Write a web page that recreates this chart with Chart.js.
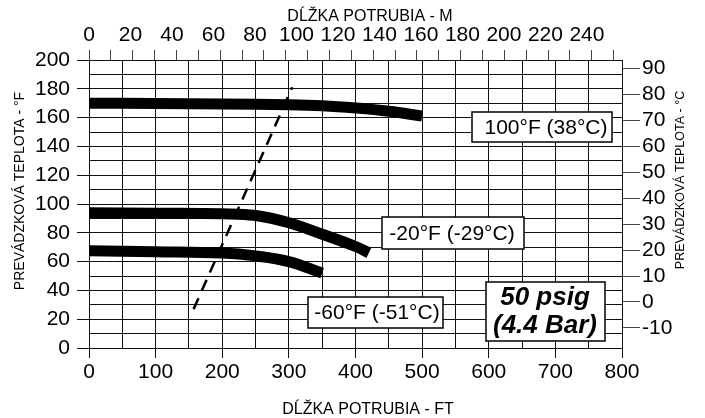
<!DOCTYPE html>
<html>
<head>
<meta charset="utf-8">
<script src="https://cdn.jsdelivr.net/npm/chart.js@4/dist/chart.umd.min.js"></script>
<style>
  body { margin: 0; background: #fff; }
  canvas { display: block; }
</style>
</head>
<body>
<canvas id="chart" width="705" height="418"></canvas>
<script>
// pipe length (ft) and operating temperature (°F)
const lengthFt100 = [0, 100, 200, 300, 350, 400, 450, 500];
const temp100F = [170, 169.8, 169.5, 169, 168.3, 166.7, 164.4, 161];

const lengthFtMinus20 = [0, 100, 200, 250, 300, 350, 400, 420];
const tempMinus20F = [94, 93.6, 93.2, 92, 87, 79, 70.5, 66];

const lengthFtMinus60 = [0, 100, 200, 250, 300, 350];
const tempMinus60F = [67.5, 66.9, 66, 64, 60, 52];

const dashFt = [157, 305];
const dashF = [27, 181];

const ftTicks = [0, 100, 200, 300, 400, 500, 600, 700, 800];
const fahrenheitTicks = [0, 20, 40, 60, 80, 100, 120, 140, 160, 180, 200];
const celsiusTicks = [-10, 0, 10, 20, 30, 40, 50, 60, 70, 80, 90];
const meterLabels = [0, 20, 40, 60, 80, 100, 120, 140, 160, 180, 200, 220, 240];
const meterTickMarks = [0, 10, 20, 30, 40, 50, 60, 70, 80, 90, 100, 110, 120,
  130, 140, 150, 160, 170, 180, 190, 200, 210, 220, 230, 240];

const FONT = "'Liberation Sans', Arial, sans-serif";

const toPoints = (xs, ys) => xs.map((x, i) => ({ x, y: ys[i] }));

const curve = (label, xs, ys) => ({
  label,
  data: toPoints(xs, ys),
  borderColor: "#000",
  borderWidth: 11,
  borderCapStyle: "butt",
  pointRadius: 0,
  tension: 0.4,
  fill: false,
});

const labelBoxes = {
  id: "labelBoxes",
  afterDatasetsDraw(chart) {
    const ctx = chart.ctx;
    ctx.save();

    const box = (x1, y1, x2, y2) => {
      ctx.fillStyle = "#fff";
      ctx.fillRect(x1, y1, x2 - x1, y2 - y1);
      ctx.strokeStyle = "#000";
      ctx.lineWidth = 1.5;
      ctx.strokeRect(x1, y1, x2 - x1, y2 - y1);
    };

    box(472, 112, 612, 142);
    box(382, 217, 524, 249);
    box(308, 297, 443, 328);
    box(486, 282, 605, 341);

    ctx.fillStyle = "#000";
    ctx.textAlign = "center";
    ctx.textBaseline = "middle";
    ctx.font = "21px " + FONT;
    ctx.fillText("100°F (38°C)", 546, 128);
    ctx.fillText("-20°F (-29°C)", 452, 234);
    ctx.fillText("-60°F (-51°C)", 377, 313);

    ctx.font = "italic bold 26px " + FONT;
    ctx.fillText("50 psig", 545, 298);
    ctx.fillText("(4.4 Bar)", 545, 326);

    // axis titles
    ctx.font = "16px " + FONT;
    ctx.textBaseline = "alphabetic";
    ctx.fillText("DĹŽKA POTRUBIA - M", 370, 21);
    ctx.fillText("DĹŽKA POTRUBIA - FT", 368, 414);

    ctx.textBaseline = "middle";
    ctx.save();
    ctx.translate(20, 191);
    ctx.rotate(-Math.PI / 2);
    ctx.font = "14px " + FONT;
    ctx.fillText("PREVÁDZKOVÁ TEPLOTA - °F", 0, 0);
    ctx.restore();

    ctx.save();
    ctx.translate(681, 180);
    ctx.rotate(-Math.PI / 2);
    ctx.font = "12.5px " + FONT;
    ctx.fillText("PREVÁDZKOVÁ TEPLOTA - °C", 0, 0);
    ctx.restore();

    ctx.restore();
  },
};

const tickFont = { family: FONT, size: 21 };

new Chart(document.getElementById("chart"), {
  type: "line",
  data: {
    datasets: [
      curve("100°F (38°C)", lengthFt100, temp100F),
      curve("-20°F (-29°C)", lengthFtMinus20, tempMinus20F),
      curve("-60°F (-51°C)", lengthFtMinus60, tempMinus60F),
      {
        label: "limit",
        data: toPoints(dashFt, dashF),
        borderColor: "#000",
        borderWidth: 2.5,
        borderDash: [12, 8],
        borderCapStyle: "butt",
        pointRadius: 0,
        fill: false,
      },
    ],
  },
  options: {
    responsive: false,
    animation: false,
    layout: { padding: 0 },
    plugins: {
      legend: { display: false },
      tooltip: { enabled: false },
    },
    scales: {
      x: {
        type: "linear",
        position: "bottom",
        min: 0,
        max: 800,
        afterFit: (s) => { s.height = 70; },
        ticks: {
          stepSize: 50,
          color: "#000",
          font: tickFont,
          padding: 2,
          maxRotation: 0,
          autoSkip: false,
          callback: (v) => (ftTicks.includes(v) ? v : ""),
        },
        grid: {
          color: "#111",
          lineWidth: 1,
          tickLength: 10,
          tickColor: (c) => (c.tick && ftTicks.includes(c.tick.value) ? "#111" : "rgba(0,0,0,0)"),
        },
        border: { color: "#111", width: 1 },
      },
      y: {
        position: "left",
        min: 0,
        max: 200,
        afterFit: (s) => { s.width = 89; },
        ticks: {
          stepSize: 10,
          color: "#000",
          font: tickFont,
          padding: 7,
          autoSkip: false,
          callback: (v) => (fahrenheitTicks.includes(v) ? v : ""),
        },
        grid: {
          color: "#111",
          lineWidth: 1,
          tickLength: 12,
          tickColor: (c) => (c.tick && fahrenheitTicks.includes(c.tick.value) ? "#111" : "rgba(0,0,0,0)"),
        },
        border: { color: "#111", width: 1 },
      },
      yC: {
        position: "right",
        min: (0 - 32) / 1.8,
        max: (200 - 32) / 1.8,
        afterFit: (s) => { s.width = 83; },
        afterBuildTicks: (s) => { s.ticks = celsiusTicks.map((v) => ({ value: v })); },
        ticks: {
          color: "#000",
          font: tickFont,
          padding: 2,
          autoSkip: false,
        },
        grid: {
          drawOnChartArea: false,
          color: "#444",
          tickLength: 18,
        },
        border: { color: "#111", width: 1 },
      },
      xM: {
        type: "linear",
        position: "top",
        weight: 0,
        min: 0,
        max: 800 * 0.3048,
        afterFit: (s) => { s.height = 12; },
        afterBuildTicks: (s) => { s.ticks = meterTickMarks.map((v) => ({ value: v })); },
        ticks: { display: false },
        grid: {
          drawOnChartArea: false,
          color: "#444",
          tickLength: 10,
        },
        border: { color: "#111", width: 1 },
      },
      xMLabels: {
        type: "linear",
        position: "top",
        weight: 1,
        min: 0,
        max: 256.9,
        afterFit: (s) => { s.height = 48; },
        afterBuildTicks: (s) => { s.ticks = meterLabels.map((v) => ({ value: v })); },
        ticks: {
          color: "#000",
          font: tickFont,
          padding: 0,
          maxRotation: 0,
          autoSkip: false,
        },
        grid: { display: false, drawTicks: false },
        border: { display: false },
      },
    },
  },
  plugins: [labelBoxes],
});
</script>
</body>
</html>
